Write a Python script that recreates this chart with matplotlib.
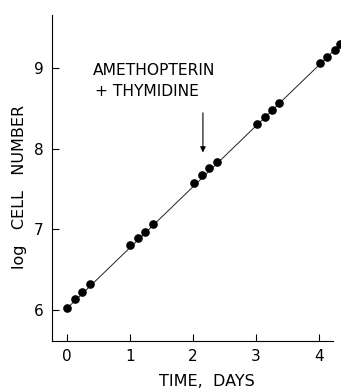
import numpy as np
import matplotlib
matplotlib.use("Agg")
import matplotlib.pyplot as plt

# cell counts
days = [0.0, 0.12, 0.24, 0.37,
        1.0, 1.12, 1.24, 1.37,
        2.02, 2.14, 2.26, 2.38,
        3.02, 3.14, 3.26, 3.37,
        4.02, 4.13, 4.25, 4.33]
log_cells = [6.03, 6.13, 6.22, 6.32,
             6.80, 6.89, 6.97, 7.07,
             7.57, 7.67, 7.76, 7.84,
             8.31, 8.40, 8.48, 8.57,
             9.06, 9.14, 9.23, 9.30]

# fitted growth line
fit_days = [0.0, 4.36]
fit_log = [6.02, 9.31]

xticks = [0, 1, 2, 3, 4]
yticks = [6, 7, 8, 9]

plt.rcParams['font.family'] = ['DejaVu Sans']

fig = plt.figure(figsize=(3.41, 3.91), dpi=100)
ax = fig.add_axes([52/341, 1 - 341/391, 1 - 52/341, (341 - 15)/391])

ax.plot(fit_days, fit_log, color='#222222', lw=0.7, zorder=1)
ax.plot(days, log_cells, 'o', color='black', ms=5.2, zorder=2)

ax.set_xlim(-0.24, 4.35)
ax.set_ylim(5.615, 9.66)
ax.set_xticks(xticks)
ax.set_yticks(yticks)
ax.tick_params(direction='in', length=5, width=0.8, labelsize=11, pad=6)

for s in ['top', 'right']:
    ax.spines[s].set_visible(False)
ax.spines['bottom'].set_bounds(-0.24, 4.22)
for s in ['left', 'bottom']:
    ax.spines[s].set_linewidth(0.8)

ax.text(0.41, 8.92, "AMETHOPTERIN", fontsize=11.2)
ax.text(0.44, 8.65, "+ THYMIDINE", fontsize=11.2)
ax.annotate("", xy=(2.157, 7.92), xytext=(2.157, 8.48),
            arrowprops=dict(arrowstyle='-|>', color='black', lw=0.8,
                            mutation_scale=8))

fig.text(20/341, 1 - 187/391, "log   CELL   NUMBER", rotation=90,
         ha='center', va='center', fontsize=11.5)
fig.text(207/341, 1 - 381/391, "TIME,  DAYS", ha='center', va='center',
         fontsize=11.5)

fig.savefig("out.png", dpi=100)
